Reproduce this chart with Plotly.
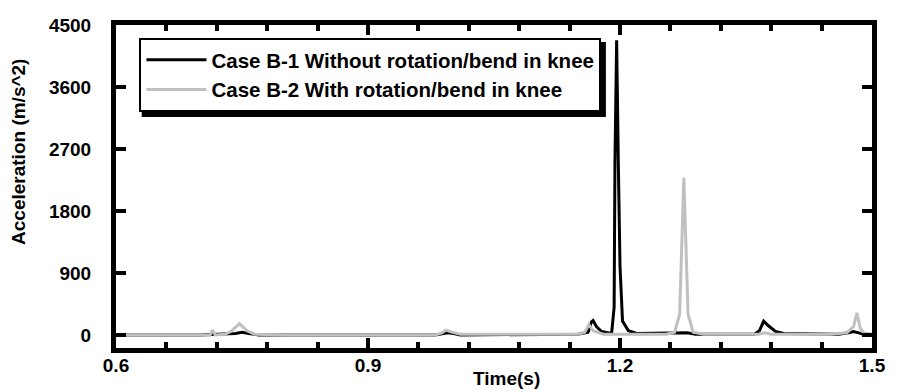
import plotly.graph_objects as go

# Case B-1 (black)
t_b1 = [0.6, 0.70, 0.742, 0.750, 0.758, 0.77, 0.98, 0.99, 0.995, 1.002, 1.01, 1.15,
        1.162, 1.166, 1.168, 1.172, 1.178, 1.19, 1.193, 1.194, 1.196, 1.198, 1.2, 1.203,
        1.21, 1.22, 1.26, 1.268, 1.28, 1.29, 1.36, 1.366, 1.371, 1.376, 1.385, 1.395,
        1.46, 1.472, 1.478, 1.484, 1.49, 1.5]
a_b1 = [0, 0, 20, 40, 20, 0, 0, 20, 30, 20, 0, 10,
        40, 190, 210, 120, 50, 20, 400, 2500, 4280, 2500, 1000, 200,
        60, 20, 20, 30, 30, 10, 10, 60, 200, 140, 50, 20,
        10, 30, 50, 30, 10, 0]

# Case B-2 (gray)
t_b2 = [0.6, 0.712, 0.715, 0.718, 0.73, 0.738, 0.747, 0.756, 0.765, 0.8, 0.98, 0.988,
        0.993, 1.0, 1.01, 1.15, 1.158, 1.163, 1.168, 1.18, 1.255, 1.265, 1.271, 1.274,
        1.276, 1.278, 1.281, 1.287, 1.3, 1.365, 1.372, 1.38, 1.45, 1.47, 1.478, 1.482,
        1.486, 1.49, 1.5]
a_b2 = [0, 0, 70, 0, 10, 60, 165, 60, 10, 0, 0, 30,
        70, 40, 10, 10, 40, 150, 60, 10, 10, 40, 300, 1500,
        2280, 1500, 300, 40, 10, 10, 30, 10, 10, 30, 120, 320,
        100, 30, 10]

name_b1 = "Case B-1 Without rotation/bend in knee"
name_b2 = "Case B-2 With rotation/bend in knee"

x_ticks = [0.6, 0.9, 1.2, 1.5]
y_ticks = [0, 900, 1800, 2700, 3600, 4500]

FONT = "Liberation Sans, Arial, sans-serif"
FS = 19

fig = go.Figure()
fig.add_trace(go.Scatter(x=t_b1, y=a_b1, mode="lines", name=name_b1,
                         line=dict(color="black", width=3)))
fig.add_trace(go.Scatter(x=t_b2, y=a_b2, mode="lines", name=name_b2,
                         line=dict(color="#c0c0c0", width=3)))

fig.update_layout(
    width=898, height=392,
    margin=dict(l=116, r=18, t=25, b=44),
    paper_bgcolor="white", plot_bgcolor="white",
    font=dict(family=FONT, size=FS, color="black"),
    showlegend=True,
    legend=dict(x=0.031, y=0.96, xanchor="left", yanchor="top",
                bgcolor="white", bordercolor="black", borderwidth=2,
                itemwidth=60,
                font=dict(family=FONT, size=20.5, color="black", weight="bold")),
    xaxis=dict(range=[0.6, 1.5], tickvals=x_ticks, ticktext=[str(v) for v in x_ticks],
               ticks="inside", ticklen=10, tickwidth=4, tickcolor="black",
               showline=True, linewidth=5, linecolor="black", mirror="ticks",
               showgrid=False, zeroline=False, ticklabelstandoff=-4,
               tickfont=dict(family=FONT, size=FS, weight="bold"),
               minor=dict(dtick=0.06, ticks="inside", ticklen=6, tickwidth=4, tickcolor="black")),
    yaxis=dict(range=[-190, 4500], tickvals=y_ticks, ticktext=[str(v) for v in y_ticks],
               ticks="inside", ticklen=10, tickwidth=4, tickcolor="black",
               showline=True, linewidth=5, linecolor="black", mirror="ticks",
               showgrid=False, zeroline=False, ticklabelstandoff=16,
               tickfont=dict(family=FONT, size=FS, weight="bold")),
    shapes=[
        # legend drop shadow
        dict(type="rect", xref="paper", yref="paper", x0=0.034, x1=0.648,
             y0=0.715, y1=0.947, fillcolor="black", line=dict(width=0), layer="above"),
    ],
    annotations=[
        dict(text="Time(s)", xref="paper", yref="paper", x=0.517, y=0, yshift=-30,
             xanchor="center", yanchor="middle", showarrow=False,
             font=dict(family=FONT, size=FS, weight="bold")),
        dict(text="Acceleration (m/s^2)", xref="paper", yref="paper", x=0, xshift=-97,
             y=0.607, textangle=-90, xanchor="center", yanchor="middle", showarrow=False,
             font=dict(family=FONT, size=FS, weight="bold")),
    ],
)

fig.write_html("out.html")
